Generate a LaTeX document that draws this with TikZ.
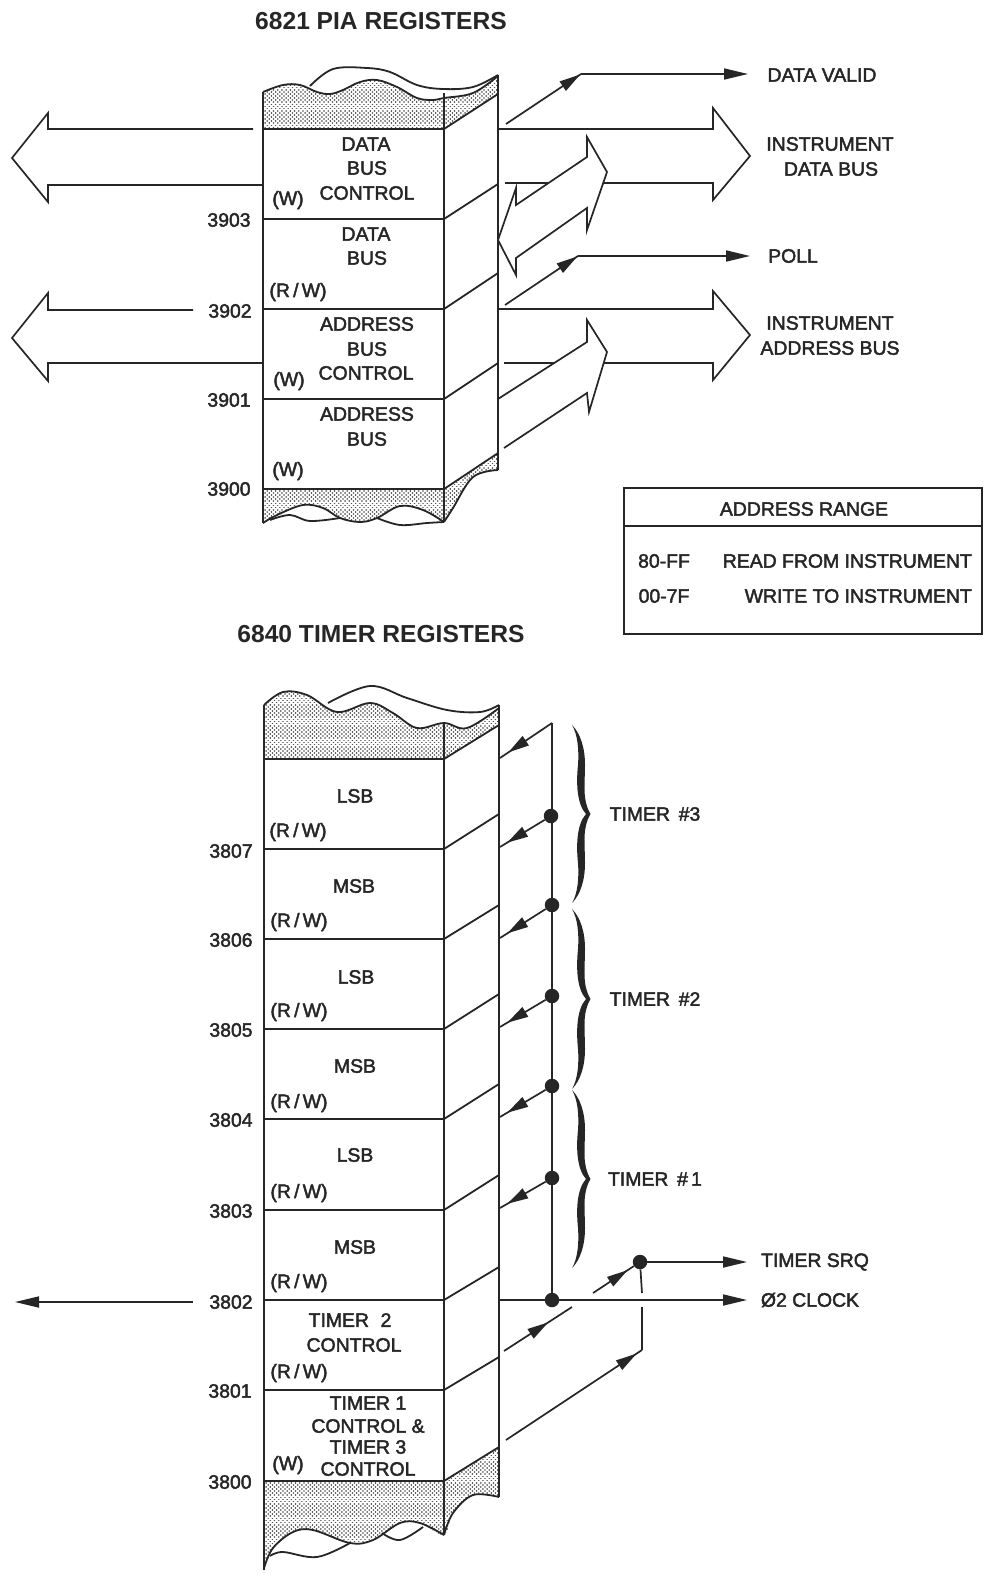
\documentclass[tikz,border=0pt]{standalone}
\usepackage{fontspec}
\setmainfont{Liberation Sans}
\newfontfamily\labfont[FakeBold=2.2]{Liberation Sans}
\newfontfamily\titlefont{Liberation Sans Bold}
\usetikzlibrary{arrows.meta,decorations.markings}
\definecolor{ink}{HTML}{262626}
\newcommand{\rwlab}{(R\,/\,W)}
\tikzset{
  x=1pt,y=-1pt,
  conn/.style={draw=ink,line width=1.7pt},
  wall/.style={draw=ink,line width=1.8pt,line join=round},
  bigarrow/.style={draw=ink,line width=1.7pt,fill=white,line join=miter},
  tip/.style={-{Triangle[length=24pt,width=11pt]}},
  midhead/.style={postaction={decorate},decoration={markings,mark=at position #1 with {\arrow{Triangle[length=21pt,width=11pt]}}}},
  lab/.style={inner sep=0pt,text=ink,font=\labfont\fontsize{19.4}{21}\selectfont},
  title/.style={inner sep=0pt,text=ink,font=\titlefont\fontsize{24.6}{26}\selectfont},
  dot/.style={circle,fill=ink,inner sep=0pt,minimum size=14.5pt},
  wave/.style={draw=ink,line width=1.8pt,line join=round},
  dotrow/.style={draw=ink!80,line width=1.7pt,line cap=round,dash pattern=on 0.01pt off 4.2pt}
}
% stipple: rows of dots inside a box (clip first)
\newcommand{\stippledots}[4]{%
  \pgfmathsetmacro\syn{#2+4.2}\pgfmathsetmacro\sya{#2+2.1}\pgfmathsetmacro\syb{#2+6.3}\pgfmathsetmacro\sxa{#1+2.1}%
  \foreach \yy in {#2,\syn,...,#4}{\draw[dotrow] (#1,\yy) -- (#3,\yy);}
  \foreach \yy in {\sya,\syb,...,#4}{\draw[dotrow] (\sxa,\yy) -- (#3,\yy);}}
\newcommand{\bracefill}[2]{% centre y, half height
  \fill[ink] (572,#1-#2) .. controls (580,#1-#2+8) and (585,#1-#2+22) .. (585,#1-#2+40)
   .. controls (585,#1-30) and (582,#1-14) .. (590.5,#1)
   .. controls (582,#1+14) and (585,#1+30) .. (585,#1+#2-40)
   .. controls (585,#1+#2-22) and (580,#1+#2-8) .. (572,#1+#2)
   .. controls (578,#1+#2-10) and (579,#1+#2-26) .. (578,#1+#2-40)
   .. controls (576,#1+30) and (577,#1+10) .. (586,#1)
   .. controls (577,#1-10) and (576,#1-30) .. (578,#1-#2+40)
   .. controls (579,#1-#2+26) and (578,#1-#2+10) .. (572,#1-#2) -- cycle;}
\begin{document}
\begin{tikzpicture}
\useasboundingbox (0,0) rectangle (983,1582);
\fill[white] (0,0) rectangle (983,1582);

% ---------- PIA box ----------
\begin{scope}
\clip (263,129) -- (263,92) -- plot[smooth,tension=.6] coordinates {(263,92)(283,85)(300,85)(317,92)(330,94)(343,90)(360,82)(377,80)(397,87)(417,98)(433,100)(444,98)(473,93)(498,76)} -- (498,94) -- (444,129) -- cycle;
\stippledots{263}{75}{498}{129}
\end{scope}
\begin{scope}
\clip (263,489) -- (444,489) -- (498,453) -- (498,470) -- plot[smooth,tension=.6] coordinates {(498,470)(473,477)(453,508)(444,522)(423,510)(400,506)(377,518)(360,522)(340,518)(323,508)(303,505)(277,515)(263,523)} -- cycle;
\stippledots{263}{453}{498}{523}
\end{scope}

\draw[wave] plot[smooth,tension=.6] coordinates {(263,92)(283,85)(300,85)(317,92)(330,94)(343,90)(360,82)(377,80)(397,87)(417,98)(433,100)(444,98)(473,93)(498,76)};
\draw[wave] plot[smooth,tension=.6] coordinates {(310,86)(333,69)(367,68)(390,72)(417,85)(443,89)(473,87)(498,75)};
\draw[wave] plot[smooth,tension=.6] coordinates {(263,523)(277,515)(303,505)(323,508)(340,518)(360,522)(377,518)(400,506)(423,510)(444,522)};
\draw[wave] plot[smooth,tension=.6] coordinates {(270,520)(290,515)(310,521)(340,518)};
\draw[wave] plot[smooth,tension=.6] coordinates {(377,518)(400,525)(427,523)(444,522)};
\draw[wave] plot[smooth,tension=.6] coordinates {(444,522)(453,508)(473,477)(498,470)};
\draw[wall] (263,92) -- (263,523);
\draw[wall] (444,93) -- (444,522);
\draw[wall] (498,75) -- (498,470);
\foreach \ya/\yb in {129/94,219/184,309/273,399/363,489/453}
  \draw[wall] (263,\ya) -- (444,\ya) -- (498,\yb);

% ---------- PIA arrows ----------
\draw[bigarrow,fill=none] (253,129) -- (48,129) -- (48,113) -- (12,158) -- (48,202) -- (48,185) -- (263,185);
\draw[bigarrow,fill=none] (193,310) -- (48,310) -- (48,293) -- (12,338) -- (48,381) -- (48,363) -- (263,363);
\draw[bigarrow,fill=none] (498,129) -- (713,129) -- (713,108) -- (750,156) -- (713,200) -- (713,183) -- (604,183);
\draw[conn] (505,183) -- (550,183);
\draw[bigarrow,fill=none] (498,309) -- (713,309) -- (713,291) -- (750,335) -- (713,380) -- (713,363) -- (604,363);
\draw[conn] (504,363) -- (555,363);
\draw[bigarrow] (607,172) -- (587,137) -- (587,157) -- (516,205) -- (516,188) -- (498,240) -- (516,275) -- (516,258) -- (587,208) -- (587,230) -- cycle;
\draw[bigarrow,fill=none] (498,399) -- (587,342) -- (587,320) -- (607,352) -- (589,412) -- (587,393) -- (504,448);

\coordinate (dvA) at (506,124);
\coordinate (dvB) at (581,74);
\coordinate (dvC) at (748,74);
\draw[conn,midhead=.99] (dvA) -- (dvB);
\draw[conn,tip] (dvB) -- (dvC);
\coordinate (plA) at (505,305);
\coordinate (plB) at (578,256);
\coordinate (plC) at (750,256);
\draw[conn,midhead=.99] (plA) -- (plB);
\draw[conn,tip] (plB) -- (plC);

% ---------- table ----------
\draw[conn] (624,488) rectangle (982,634);
\draw[conn] (624,526) -- (982,526);

% ---------- Timer box ----------
\begin{scope}
\clip (264,759) -- (264,705) -- plot[smooth,tension=.6] coordinates {(264,705)(283,692)(307,695)(337,712)(370,703)(393,713)(417,728)(444,723)(467,728)(499,708)} -- (499,725) -- (444,759) -- cycle;
\stippledots{264}{690}{499}{759}
\end{scope}
\begin{scope}
\clip (264,1481) -- (444,1481) -- (499,1447) -- (499,1497) -- plot[smooth,tension=.6] coordinates {(499,1497)(473,1495)(453,1513)(444,1535)(420,1523)(400,1523)(373,1540)(350,1543)(313,1530)(293,1532)(273,1548)(264,1565)} -- cycle;
\stippledots{264}{1447}{499}{1568}
\end{scope}

\draw[wave] plot[smooth,tension=.6] coordinates {(264,705)(283,692)(307,695)(337,712)(370,703)(393,713)(417,728)(444,723)(467,728)(499,708)};
\draw[wave] plot[smooth,tension=.6] coordinates {(328,703)(370,686)(407,698)(447,710)(480,712)(499,705)};
\draw[wave] plot[smooth,tension=.6] coordinates {(264,1568)(273,1548)(293,1532)(313,1530)(350,1543)(373,1540)(400,1523)(420,1523)(444,1535)};
\draw[wave] plot[smooth,tension=.6] coordinates {(270,1556)(283,1552)(317,1557)(350,1543)};
\draw[wave] plot[smooth,tension=.6] coordinates {(382,1533)(400,1540)(423,1527)};
\draw[wave] plot[smooth,tension=.6] coordinates {(444,1535)(453,1513)(473,1495)(499,1497)};
\draw[wall] (264,705) -- (264,1570);
\draw[wall] (444,723) -- (444,1535);
\draw[wall] (499,705) -- (499,1497);
\foreach \ya/\yb in {759/725,849/814,939/905,1029/994,1119/1084,1210/1175,1300/1267,1390/1357,1481/1447}
  \draw[wall] (264,\ya) -- (444,\ya) -- (499,\yb);

% ---------- Timer connectors ----------
\node[dot] (d3a) at (551,816) {};
\node[dot] (d3b) at (552,905) {};
\node[dot] (d2a) at (552,996) {};
\node[dot] (d2b) at (552,1086) {};
\node[dot] (d1a) at (552,1178) {};
\node[dot] (dclk) at (552,1300) {};
\node[dot] (dsrq) at (640,1262) {};
\coordinate (bustop) at (552,723);
\coordinate (r3a) at (500,758);
\coordinate (r3b) at (500,847);
\coordinate (r2a) at (500,938);
\coordinate (r2b) at (500,1027);
\coordinate (r1a) at (500,1117);
\coordinate (r1b) at (500,1208);
\draw[conn] (bustop) -- (dclk);
\draw[conn,midhead=.84] (bustop) -- (r3a);
\draw[conn,midhead=.84] (d3a) -- (r3b);
\draw[conn,midhead=.84] (d3b) -- (r2a);
\draw[conn,midhead=.84] (d2a) -- (r2b);
\draw[conn,midhead=.84] (d2b) -- (r1a);
\draw[conn,midhead=.84] (d1a) -- (r1b);
\coordinate (lo) at (193,1302);
\coordinate (le) at (15,1302);
\draw[conn,tip] (lo) -- (le);
\coordinate (clkL) at (499,1300);
\coordinate (clkR) at (747,1300);
\draw[conn,tip] (clkL) -- (clkR);
\coordinate (srqR) at (747,1262);
\draw[conn,tip] (dsrq) -- (srqR);
\coordinate (a1) at (593,1293);
\draw[conn,midhead=.85] (a1) -- (dsrq);
\coordinate (a2) at (504,1351);
\coordinate (a3) at (572,1307);
\draw[conn,midhead=.65] (a2) -- (a3);
\coordinate (v1) at (642,1293);
\draw[conn] (dsrq) -- (v1);
\coordinate (v2) at (642,1307);
\coordinate (v3) at (642,1350);
\coordinate (v4) at (506,1440);
\draw[conn] (v2) -- (v3);
\draw[conn,midhead=.96] (v4) -- (v3);

% ---------- braces ----------
\bracefill{814}{89}
\bracefill{999}{90}
\bracefill{1179}{89}

% ---------- titles ----------
\node[title] (t1) at (381,21) {6821 PIA REGISTERS};
\node[title] (t2) at (381,634) {6840 TIMER REGISTERS};

% ---------- labels ----------
\foreach \x/\y/\t [count=\i] in {
 366/144/DATA,367/168/BUS,367/193/CONTROL,288/200/(W),229/220/3903,
 366/234/DATA,367/258/BUS,298/292/\rwlab,230/311/3902,
 367/324/ADDRESS,367/349/BUS,366/373/CONTROL,289/381/(W),229/400/3901,
 367/414/ADDRESS,367/439/BUS,288/471/(W),229/489/3900,
 822/75/DATA VALID,830/144/INSTRUMENT,831/169/DATA BUS,793/256/POLL,
 830/323/INSTRUMENT,830/348/ADDRESS BUS,
 804/509/ADDRESS RANGE,664/561/80-FF,664/596/00-7F,
 355/796/LSB,298/832/\rwlab,231/851/3807,354/886/MSB,299/922/\rwlab,231/940/3806,
 356/977/LSB,299/1012/\rwlab,231/1030/3805,355/1066/MSB,299/1103/\rwlab,231/1120/3804,
 355/1155/LSB,299/1193/\rwlab,231/1211/3803,355/1247/MSB,299/1283/\rwlab,231/1302/3802,
 350/1320/TIMER\hspace{.6em}2,354/1345/CONTROL,299/1373/\rwlab,230/1391/3801,
 368/1403/TIMER 1,368/1426/CONTROL \&,368/1447/TIMER 3,368/1469/CONTROL,288/1465/(W),230/1482/3800,
 655/814/TIMER\hspace{.45em}\#3,655/999/TIMER\hspace{.45em}\#2,655/1179/TIMER\hspace{.45em}\#\,1,815/1262/TIMER SRQ,810/1300/Ø2 CLOCK}
  \node[lab] (l\i) at (\x,\y) {\t};
\node[lab,anchor=east] (tr1) at (972,561) {READ FROM INSTRUMENT};
\node[lab,anchor=east] (tr2) at (972,596) {WRITE TO INSTRUMENT};
\end{tikzpicture}
\end{document}
